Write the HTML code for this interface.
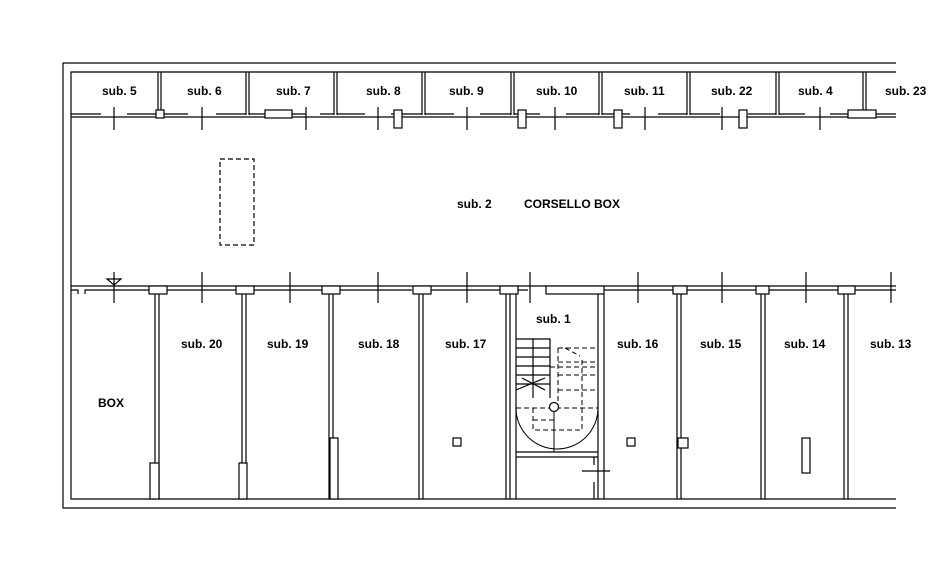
<!DOCTYPE html>
<html><head><meta charset="utf-8"><style>
body{margin:0;background:#fff}
svg{display:block}
text{font-family:"Liberation Sans",sans-serif;font-size:12px;font-weight:bold;fill:#000}
</style></head><body>
<svg width="950" height="576" viewBox="0 0 950 576" fill="none" stroke="#000" stroke-width="1.2">
<path d="M896 63 H63 V508 H896"/>
<path d="M896 72 H71 V499 H896"/>
<path d="M158 72V115M161 72V115M246 72V115M249 72V115M334 72V115M337 72V115M422 72V115M425 72V115M511 72V115M514 72V115M599 72V115M602 72V115M687 72V115M690 72V115M776 72V115M779 72V115M863 72V115M866 72V115"/>
<path d="M71 117H896"/>
<path d="M71 114H101M127 114H157M162 114H188M216 114H246M249 114H266M292 114H306M320 114H334M337 114H365M391 114H422M425 114H454M480 114H511M514 114H540M566 114H599M602 114H630M658 114H687M690 114H720M748 114H776M779 114H805M830 114H848M876 114H896"/>
<path d="M114 107V130M202 107V130M306 107V130M378 107V130M467 107V130M555 107V130M645 107V130M722 107V130M820 107V130"/>
<rect x="156" y="110" width="8" height="8" fill="#fff"/>
<rect x="265" y="110" width="27" height="8" fill="#fff"/>
<rect x="394" y="110" width="8" height="18" fill="#fff"/>
<rect x="518" y="110" width="8" height="18" fill="#fff"/>
<rect x="614" y="110" width="8" height="18" fill="#fff"/>
<rect x="739" y="110" width="8" height="18" fill="#fff"/>
<rect x="848" y="110" width="28" height="8" fill="#fff"/>
<rect x="220" y="159" width="34" height="86" stroke-dasharray="5,3"/>
<path d="M71 286H896"/>
<path d="M71 290H78V294M85 294V290H149M167 290H236M254 290H322M340 290H412M431 290H500M518 290H528M546 290H604M604 290H673M687 290H756M769 290H838M855 290H896"/>
<path d="M114 272V303M202 272V303M290 272V303M378 272V303M467 272V303M530 272V303M638 272V303M722 272V303M806 272V303M891 272V303"/>
<path d="M107 279H121L114 285Z"/>
<g fill="#fff">
<rect x="149" y="286" width="18" height="8"/><rect x="236" y="286" width="18" height="8"/><rect x="322" y="286" width="18" height="8"/><rect x="413" y="286" width="18" height="8"/><rect x="500" y="286" width="18" height="8"/><rect x="546" y="286" width="58" height="8"/><rect x="673" y="286" width="14" height="8"/><rect x="756" y="286" width="13" height="8"/><rect x="838" y="286" width="17" height="8"/>
</g>
<path d="M155 294V499M159 294V499M242 294V499M246 294V499M329 294V499M333 294V499M419 294V499M423 294V499M506 294V499M510 294V499M516 294V499M598 294V499M604 294V499M677 294V499M681 294V499M761 294V499M765 294V499M844 294V499M848 294V499"/>
<g fill="#fff">
<rect x="150" y="463" width="9" height="36"/><rect x="239" y="463" width="8" height="36"/><rect x="330" y="438" width="8" height="61"/><rect x="678" y="438" width="10" height="10"/>
<rect x="802" y="438" width="8" height="35"/>
<rect x="453" y="438" width="8" height="8"/><rect x="627" y="438" width="8" height="8"/>
</g>
<path d="M516 452H598M516 457H598M594 457V465M594 482V499M582 471H610"/>
<path d="M516 339H550V398M516 348H550M516 357H550M516 366H550M516 375H550M516 384H550M533 339V398M516 390L545 378M522 378L545 390"/>
<path d="M516 408A41 41 0 0 0 598 408M554 408V452" stroke-width="1"/>
<path d="M516 408H598M533 408V430H582V360M558 348H598M558 348V408M558 362H598M558 375H598M558 390H598M533 420H554M565 348L580 356M550 367L598 367" stroke-dasharray="5,3" stroke-width="1"/>
<circle cx="554" cy="407" r="4.5" fill="#fff"/>
<g stroke="none">
<text x="102" y="95">sub. 5</text><text x="187" y="95">sub. 6</text><text x="276" y="95">sub. 7</text><text x="366" y="95">sub. 8</text><text x="449" y="95">sub. 9</text><text x="536" y="95">sub. 10</text><text x="624" y="95">sub. 11</text><text x="711" y="95">sub. 22</text><text x="798" y="95">sub. 4</text><text x="885" y="95">sub. 23</text>
<text x="457" y="208">sub. 2</text><text x="524" y="208">CORSELLO BOX</text>
<text x="98" y="407">BOX</text>
<text x="181" y="348">sub. 20</text><text x="267" y="348">sub. 19</text><text x="358" y="348">sub. 18</text><text x="445" y="348">sub. 17</text><text x="536" y="323">sub. 1</text><text x="617" y="348">sub. 16</text><text x="700" y="348">sub. 15</text><text x="784" y="348">sub. 14</text><text x="870" y="348">sub. 13</text>
</g>
</svg>
</body></html>
